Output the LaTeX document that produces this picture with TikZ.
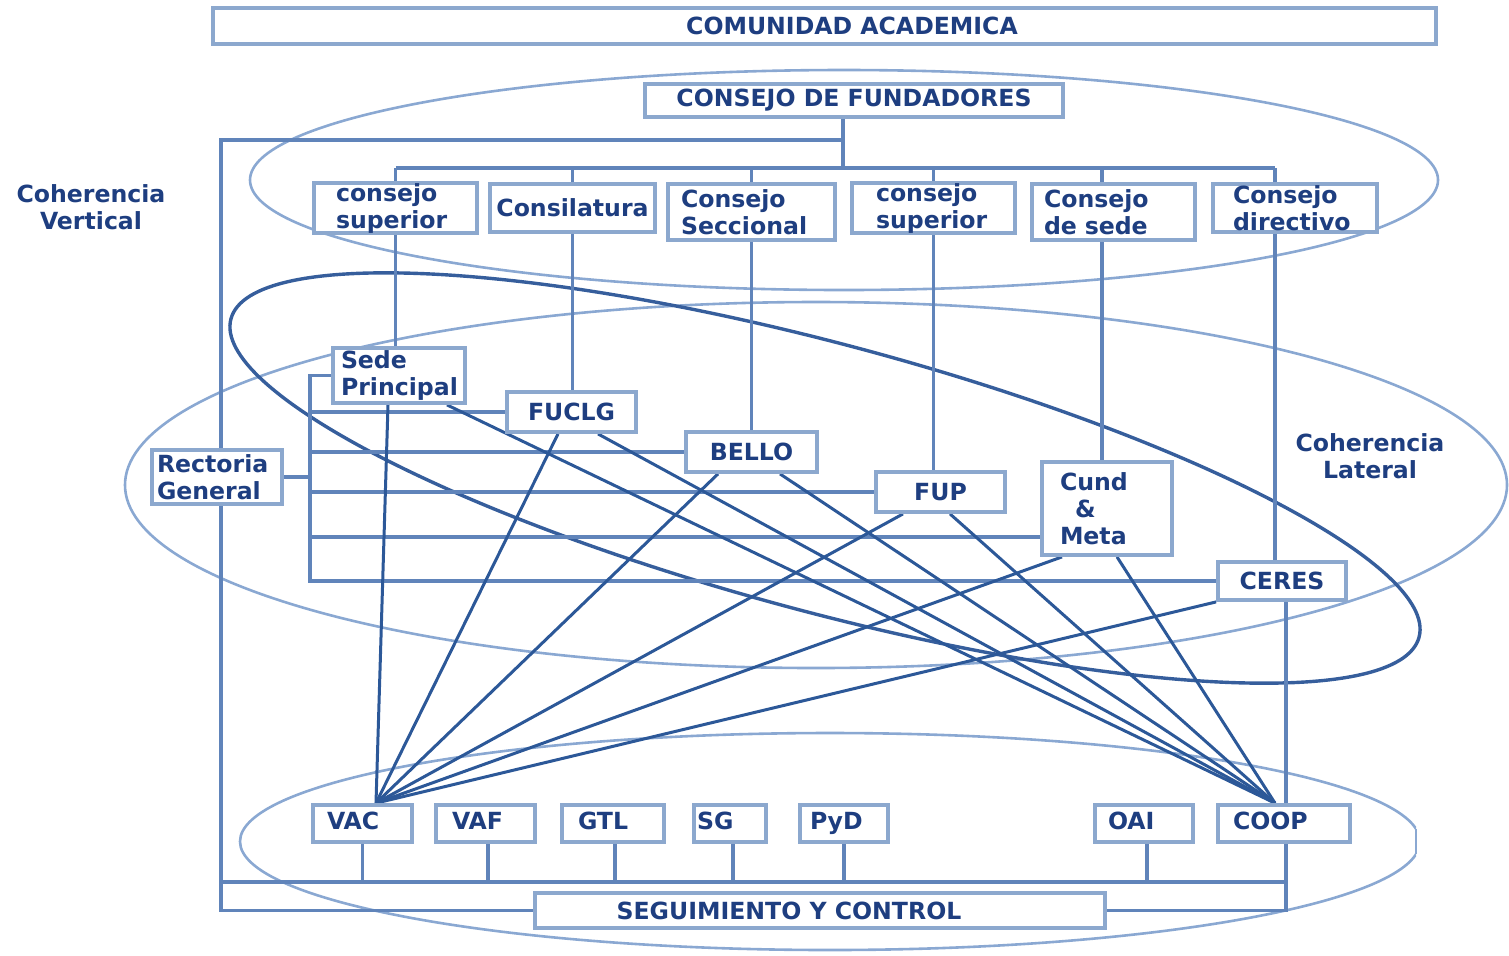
\documentclass[tikz,border=0pt]{standalone}
\usepackage{fontspec}
\setmainfont{DejaVu Sans}
\definecolor{txt}{RGB}{30,62,128}
\definecolor{boxc}{RGB}{140,168,206}
\definecolor{framec}{RGB}{96,132,186}
\definecolor{fanc}{RGB}{44,88,152}
\definecolor{ovdark}{RGB}{54,94,156}
\definecolor{ovlight}{RGB}{138,168,210}
\pgfdeclarelayer{back}
\pgfsetlayers{back,main}
\begin{document}
\begin{tikzpicture}[x=0.5pt,y=-0.5pt,
  lbl/.style={font=\bfseries\fontsize{11.8}{13.5}\selectfont, text=txt, align=center},
  box/.style={lbl, draw=boxc, line width=1.9pt, fill=white, inner ysep=0pt, inner xsep=2pt},
  lbox/.style={box, align=left},
  unit/.style={lbox, minimum height=18.5pt, text height=8.6pt, text depth=2.2pt},
  frm/.style={draw=framec, line width=1.8pt},
  fanl/.style={draw=fanc, line width=1.5pt},
  ovl/.style={draw=ovlight, line width=1.3pt},
  ovd/.style={draw=ovdark, line width=1.7pt}]
\useasboundingbox (0,0) rectangle (1509,955);

% top of the hierarchy
\node[box, minimum width=611.5pt, minimum height=18pt] (comun) at (824.5,26) {\hspace*{27.5pt}COMUNIDAD ACADEMICA};
\node[box, minimum width=209pt, minimum height=16.5pt] (fund) at (854,100.5) {CONSEJO DE FUNDADORES};

% governing councils
\node[lbox, minimum height=24pt, inner xsep=11pt, text width=59.5pt] (cs1) at (395.5,208) {consejo\\superior};
\node[box, minimum width=82.5pt, minimum height=24pt] (consil) at (572.5,208) {Consilatura};
\node[lbox, minimum height=28pt, inner xsep=6.5pt, text width=70.5pt] (secc) at (751.5,212) {Consejo\\Seccional};
\node[lbox, minimum height=24pt, inner xsep=12pt, text width=57.5pt] (cs2) at (933.5,208) {consejo\\superior};
\node[lbox, minimum height=28pt, inner xsep=6pt, text width=69.5pt] (sede2) at (1113.5,212) {Consejo\\de sede};
\node[lbox, minimum height=24pt, inner xsep=10pt, text width=62pt] (direct) at (1295,208) {Consejo\\directivo};

% campuses
\node[lbox, minimum height=27.5pt, inner xsep=4pt, text width=58pt] (sede) at (399,375.5) {Sede\\Principal};
\node[box, minimum width=64.5pt, minimum height=20pt] (fuclg) at (571.5,412) {FUCLG};
\node[box, minimum width=65.5pt, minimum height=20pt] (bello) at (751.5,452) {BELLO};
\node[box, minimum width=64.5pt, minimum height=20pt] (fup) at (940.5,492) {FUP};
\node[lbox, minimum height=46.5pt, inner xsep=9pt, text width=47pt] (cund) at (1107,508.5) {Cund\\\hspace*{7.5pt}\&\\Meta};
\node[box, minimum width=64pt, minimum height=19pt] (ceres) at (1282,581) {CERES};
\node[lbox, minimum height=27pt, inner xsep=2.5pt, text width=60pt] (rect) at (217,477) {Rectoria\\General};

% units
\node[unit, inner xsep=7pt, text width=35.5pt] (vac) at (362.5,823.5) {VAC};
\node[unit, inner xsep=8pt, text width=33.5pt] (vaf) at (485.5,823.5) {VAF};
\node[unit, inner xsep=8pt, text width=35pt] (gtl) at (613,823.5) {GTL};
\node[unit, inner xsep=1.5pt, text width=33pt] (sg) at (730,823.5) {SG};
\node[unit, inner xsep=5pt, text width=34pt] (pyd) at (844,823.5) {PyD};
\node[unit, inner xsep=6.5pt, text width=36pt] (oai) at (1144,823.5) {OAI};
\node[unit, inner xsep=7.5pt, text width=51pt] (coop) at (1284,823.5) {COOP};
\node[box, minimum width=285pt, minimum height=17.5pt] (seg) at (820,910.5) {SEGUIMIENTO Y CONTROL\hspace*{31pt}};

% side captions
\node[lbl] (cv) at (91,207) {Coherencia\\Vertical};
\node[lbl] (cl) at (1370,456) {Coherencia\\Lateral};

\begin{pgfonlayer}{back}
  % coherence ovals
  \draw[ovl] (844,180) ellipse [x radius=297pt, y radius=55pt];
  \draw[ovl] (816,485) ellipse [x radius=345.5pt, y radius=91.5pt];
  \begin{scope}
    \clip (0,0) rectangle (1416,955);
    \draw[ovl] (830,841.5) ellipse [x radius=295pt, y radius=54.25pt];
  \end{scope}
  \draw[ovl] (1416,829) -- (1416,854);
  \draw[ovd, rotate around={-15:(825,478)}] (825,478) ellipse [x radius=307.5pt, y radius=67pt];

  % reference points of the frame
  \coordinate (bus) at (843,168);
  \coordinate (ft) at (843,140);
  \coordinate (fl) at (221,140);
  \coordinate (iv) at (310,375.5);
  \coordinate (bb) at (221,882);
  \coordinate (fs) at ([xshift=-5.5pt]fund.south);
  \coordinate (sdn) at ([xshift=-5.75pt]sede2.north);
  \coordinate (sds) at ([xshift=-5.75pt]sede2.south);
  \coordinate (drn) at ([xshift=-10pt]direct.north);
  \coordinate (drs) at ([xshift=-10pt]direct.south);
  \coordinate (rl) at ([xshift=2pt]ceres.south);
  \coordinate (cw) at ([yshift=-14.25pt]cund.west);

  % founders to councils
  \draw[frm] (fs) -- (bus);
  \draw[frm] (cs1.north |- bus) -- (drn |- bus);
  \foreach \n in {cs1,consil,secc,cs2} \draw[frm] (\n.north |- bus) -- (\n.north);
  \draw[frm] (sdn |- bus) -- (sdn);
  \draw[frm] (drn |- bus) -- (drn);

  % councils to campuses
  \draw[frm] (cs1.south) -- (cs1.south |- sede.north);
  \draw[frm] (consil.south) -- (consil.south |- fuclg.north);
  \draw[frm] (secc.south) -- (secc.south |- bello.north);
  \draw[frm] (cs2.south) -- (cs2.south |- fup.north);
  \draw[frm] (sds) -- (sds |- cund.north);
  \draw[frm] (drs) -- (drs |- ceres.north);

  % outer frame
  \draw[frm] (ft) -- (fl) -- (fl |- seg.west) -- (seg.west);
  \draw[frm] (rl) -- (rl |- seg.east) -- (seg.east);
  \draw[frm] (bb) -- (bb -| rl);

  % units to the control bus
  \draw[frm] (vac.south) -- (vac.south |- bb);
  \draw[frm] ([xshift=1.25pt]vaf.south) -- ([xshift=1.25pt]vaf.south |- bb);
  \draw[frm] ([xshift=1pt]gtl.south) -- ([xshift=1pt]gtl.south |- bb);
  \draw[frm] ([xshift=1.5pt]sg.south) -- ([xshift=1.5pt]sg.south |- bb);
  \draw[frm] (pyd.south) -- (pyd.south |- bb);
  \draw[frm] ([xshift=1.5pt]oai.south) -- ([xshift=1.5pt]oai.south |- bb);

  % Rectoria General and the campus rail
  \draw[frm] (sede.west) -- (iv |- sede.west) -- (iv |- ceres.west) -- (ceres.west);
  \draw[frm] (fuclg.west) -- (iv |- fuclg.west);
  \draw[frm] (bello.west) -- (iv |- bello.west);
  \draw[frm] (fup.west) -- (iv |- fup.west);
  \draw[frm] (cw) -- (iv |- cw);
  \draw[frm] (rect.east) -- (iv |- rect.east);

  % fan to VAC
  \coordinate (va) at ([xshift=6.75pt]vac.north);
  \draw[fanl] (va) -- ([xshift=-5.5pt]sede.south);
  \draw[fanl] (va) -- ([xshift=-6.75pt]fuclg.south);
  \draw[fanl] (va) -- ([xshift=-16.75pt]bello.south);
  \draw[fanl] (va) -- ([xshift=-18.75pt]fup.south);
  \draw[fanl] (va) -- ([xshift=-22.5pt]cund.south);
  \draw[fanl] (va) -- (ceres.south west);

  % fan to COOP
  \coordinate (ca) at ([xshift=-4.5pt]coop.north);
  \draw[fanl] (ca) -- ([xshift=24pt]sede.south);
  \draw[fanl] (ca) -- ([xshift=13.25pt]fuclg.south);
  \draw[fanl] (ca) -- ([xshift=14.25pt]bello.south);
  \draw[fanl] (ca) -- ([xshift=4.75pt]fup.south);
  \draw[fanl] (ca) -- ([xshift=5pt]cund.south);
\end{pgfonlayer}
\end{tikzpicture}
\end{document}
